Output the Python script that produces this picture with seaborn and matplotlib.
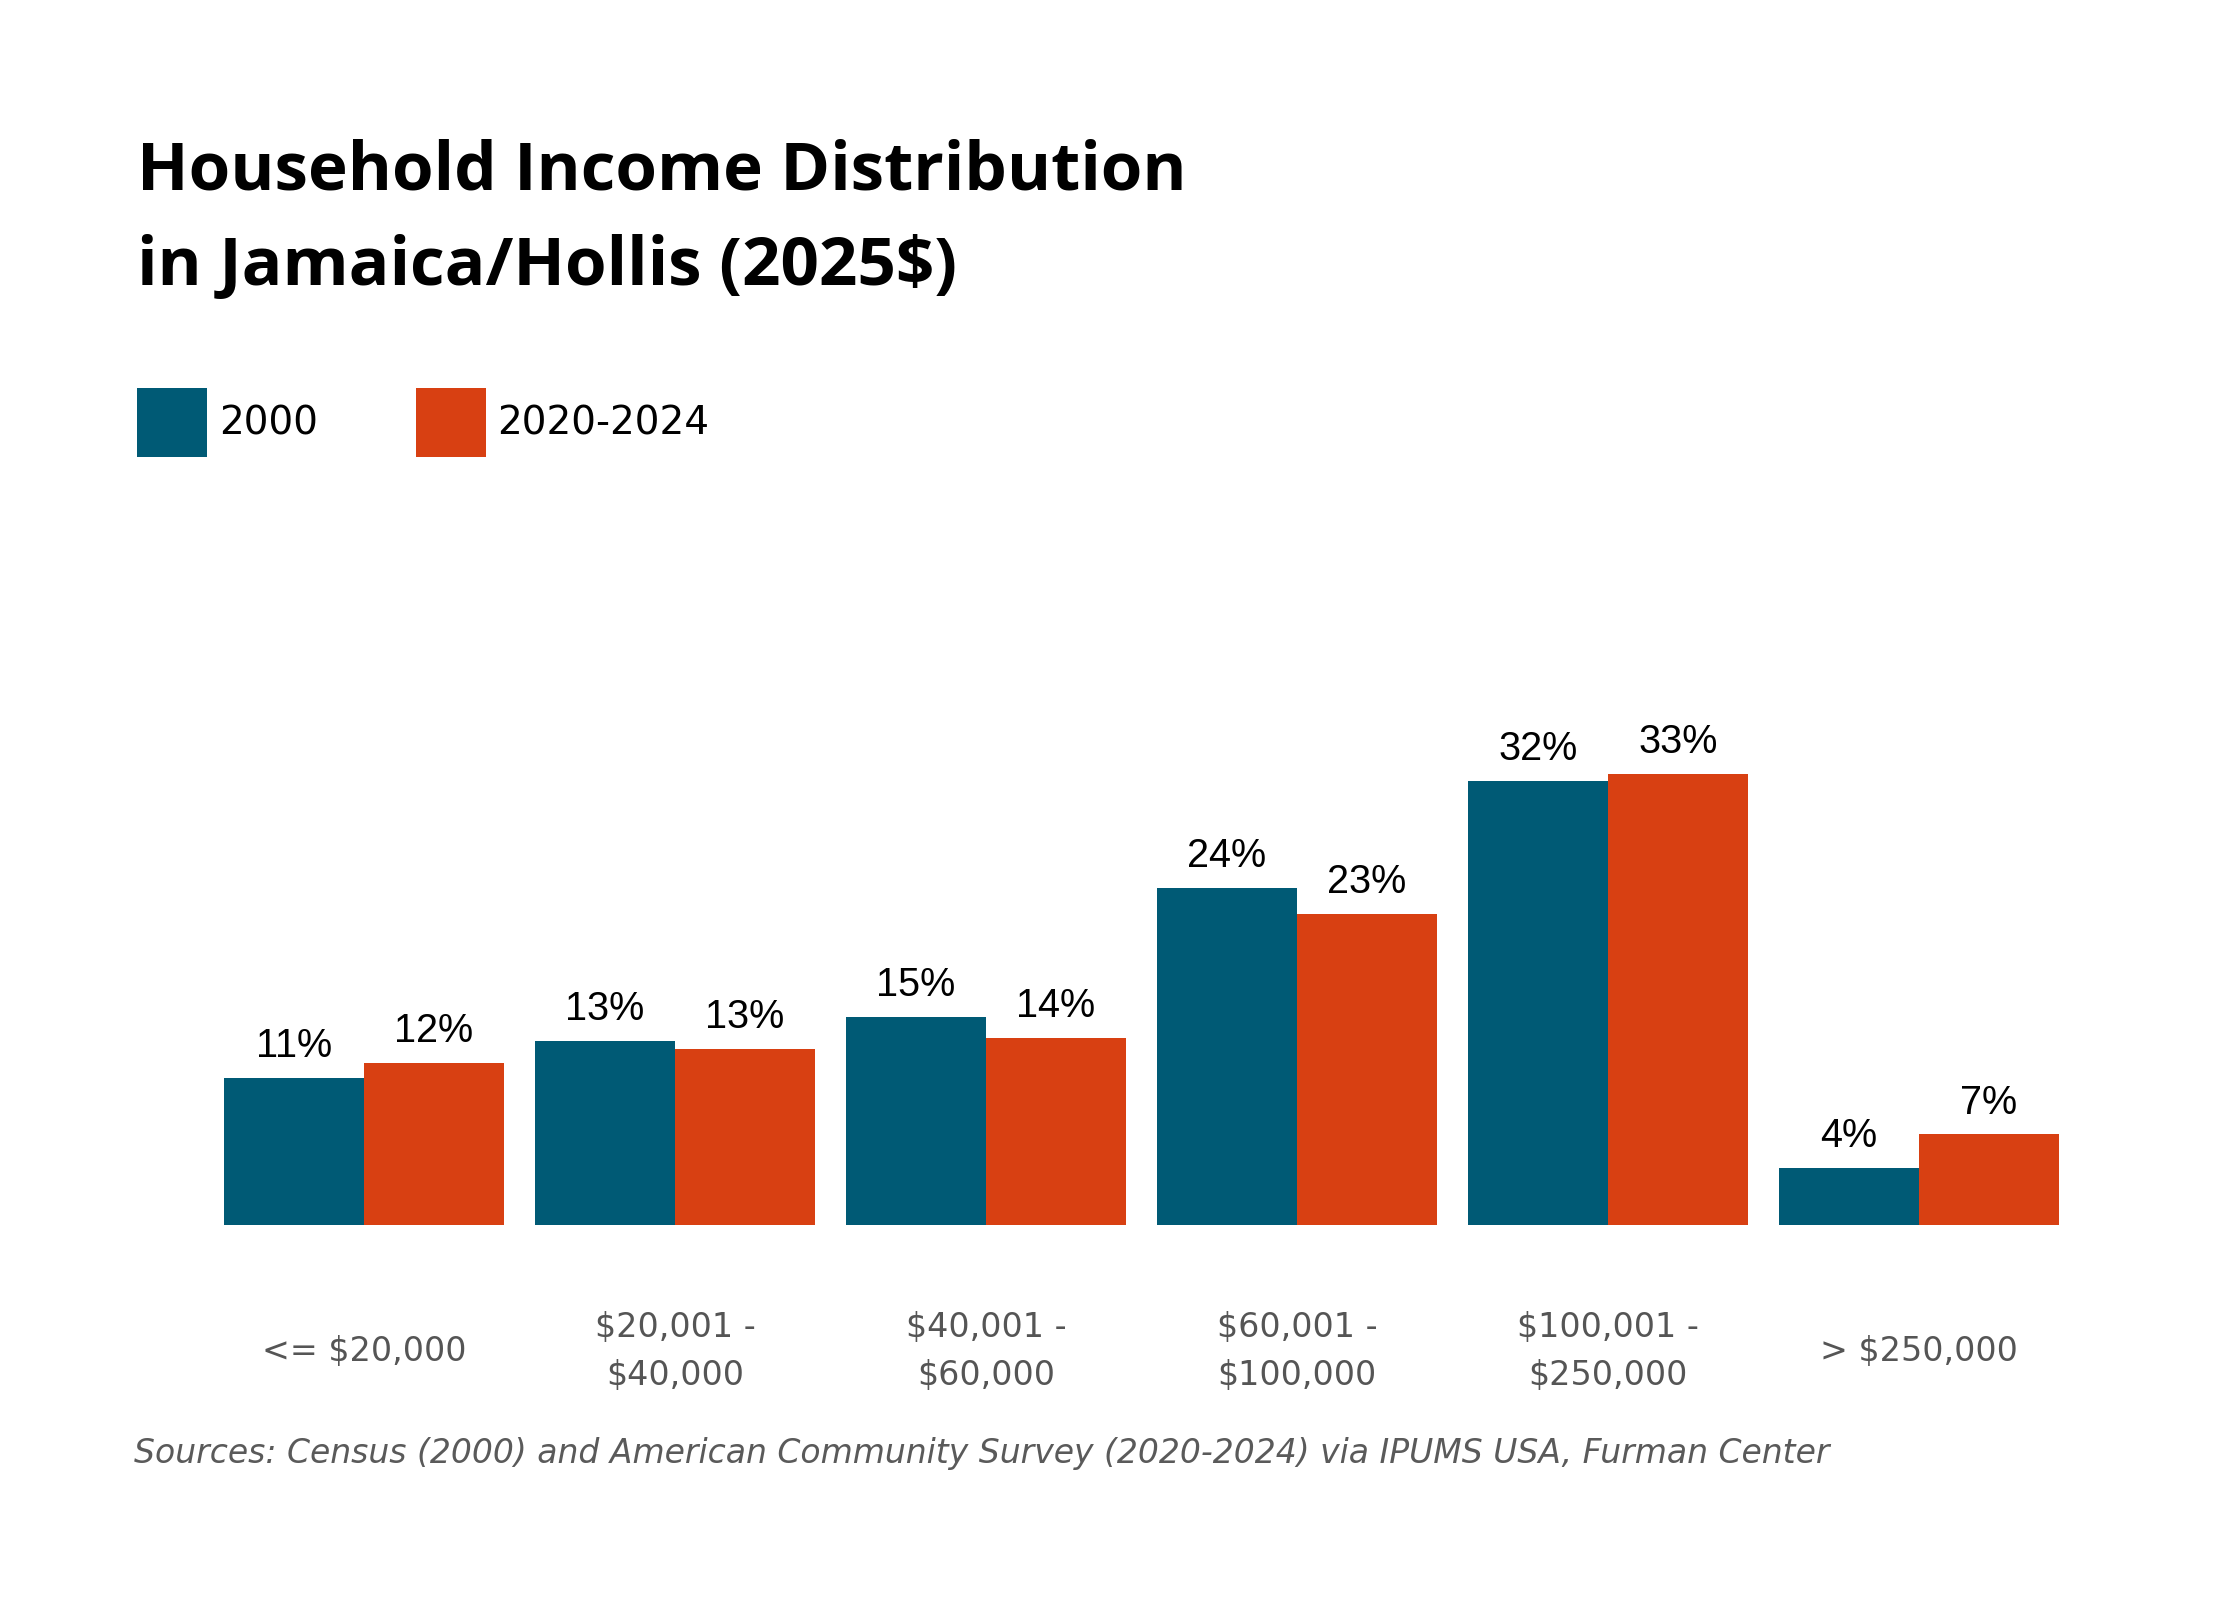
import matplotlib
matplotlib.use("Agg")
import matplotlib.pyplot as plt
import seaborn as sns
import pandas as pd

brackets = ["<= $20,000", "$20,001 -\n$40,000", "$40,001 -\n$60,000",
            "$60,001 -\n$100,000", "$100,001 -\n$250,000", "> $250,000"]
years = ["2000", "2020-2024"]
share_2000 = [10.65, 13.33, 15.07, 24.42, 32.17, 4.13]
share_2020 = [11.74, 12.75, 13.55, 22.54, 32.68, 6.59]
colors = ["#005a75", "#d84012"]

df = pd.DataFrame({
    "bracket": brackets * 2,
    "share": share_2000 + share_2020,
    "year": [years[0]] * len(brackets) + [years[1]] * len(brackets),
})

sns.set_theme(style="white")
plt.rcParams["font.family"] = ["DejaVu Sans"]

fig = plt.figure(figsize=(22.4, 16), dpi=100)
ax = fig.add_axes([0.0931, 0.2344, 0.8330, 0.3019])

sns.barplot(data=df, x="bracket", y="share", hue="year", order=brackets,
            hue_order=years, palette=colors, width=0.9, saturation=1,
            ax=ax, legend=True, errorbar=None, linewidth=0, edgecolor="none")

ax.set_xlim(-0.5, 5.5)
ax.set_ylim(0, 35)
for c in ax.containers:
    ax.bar_label(c, labels=[f"{round(v)}%" for v in c.datavalues],
                 padding=9, fontsize=28.5, family="Liberation Sans", color="black")

for s in ax.spines.values():
    s.set_visible(False)
ax.set_yticks([])
ax.set_xlabel("")
ax.set_ylabel("")
ax.tick_params(axis="x", length=0, pad=91)
for lbl in ax.get_xticklabels():
    lbl.set_verticalalignment("center")
    lbl.set_fontsize(24)
    lbl.set_color("#555555")
    lbl.set_linespacing(1.6)

handles, labels = ax.get_legend_handles_labels()
ax.legend_.remove()
leg = fig.legend(handles, labels, loc="upper left", bbox_to_anchor=(137/2240, 1 - 388/1600),
                 ncol=2, frameon=False, fontsize=28, handlelength=1.8, handleheight=2.35,
                 handletextpad=0.3, columnspacing=2.52, borderpad=0, borderaxespad=0)
for t in leg.get_texts():
    t.set_color("black")

fig.text(137/2240, 1 - 189/1600, "Household Income Distribution", fontsize=48.5,
         fontweight="bold", family="Open Sans", color="black", va="baseline", ha="left")
fig.text(137/2240, 1 - 285/1600, "in Jamaica/Hollis (2025$)", fontsize=48.5,
         fontweight="bold", family="Open Sans", color="black", va="baseline", ha="left")

fig.text(134/2240, 1 - 1453/1600,
         "Sources: Census (2000) and American Community Survey (2020-2024) via IPUMS USA, Furman Center",
         fontsize=23.8, style="italic", color="#5a5a5a", va="center", ha="left")

fig.savefig("out.png", dpi=100, facecolor="white")
